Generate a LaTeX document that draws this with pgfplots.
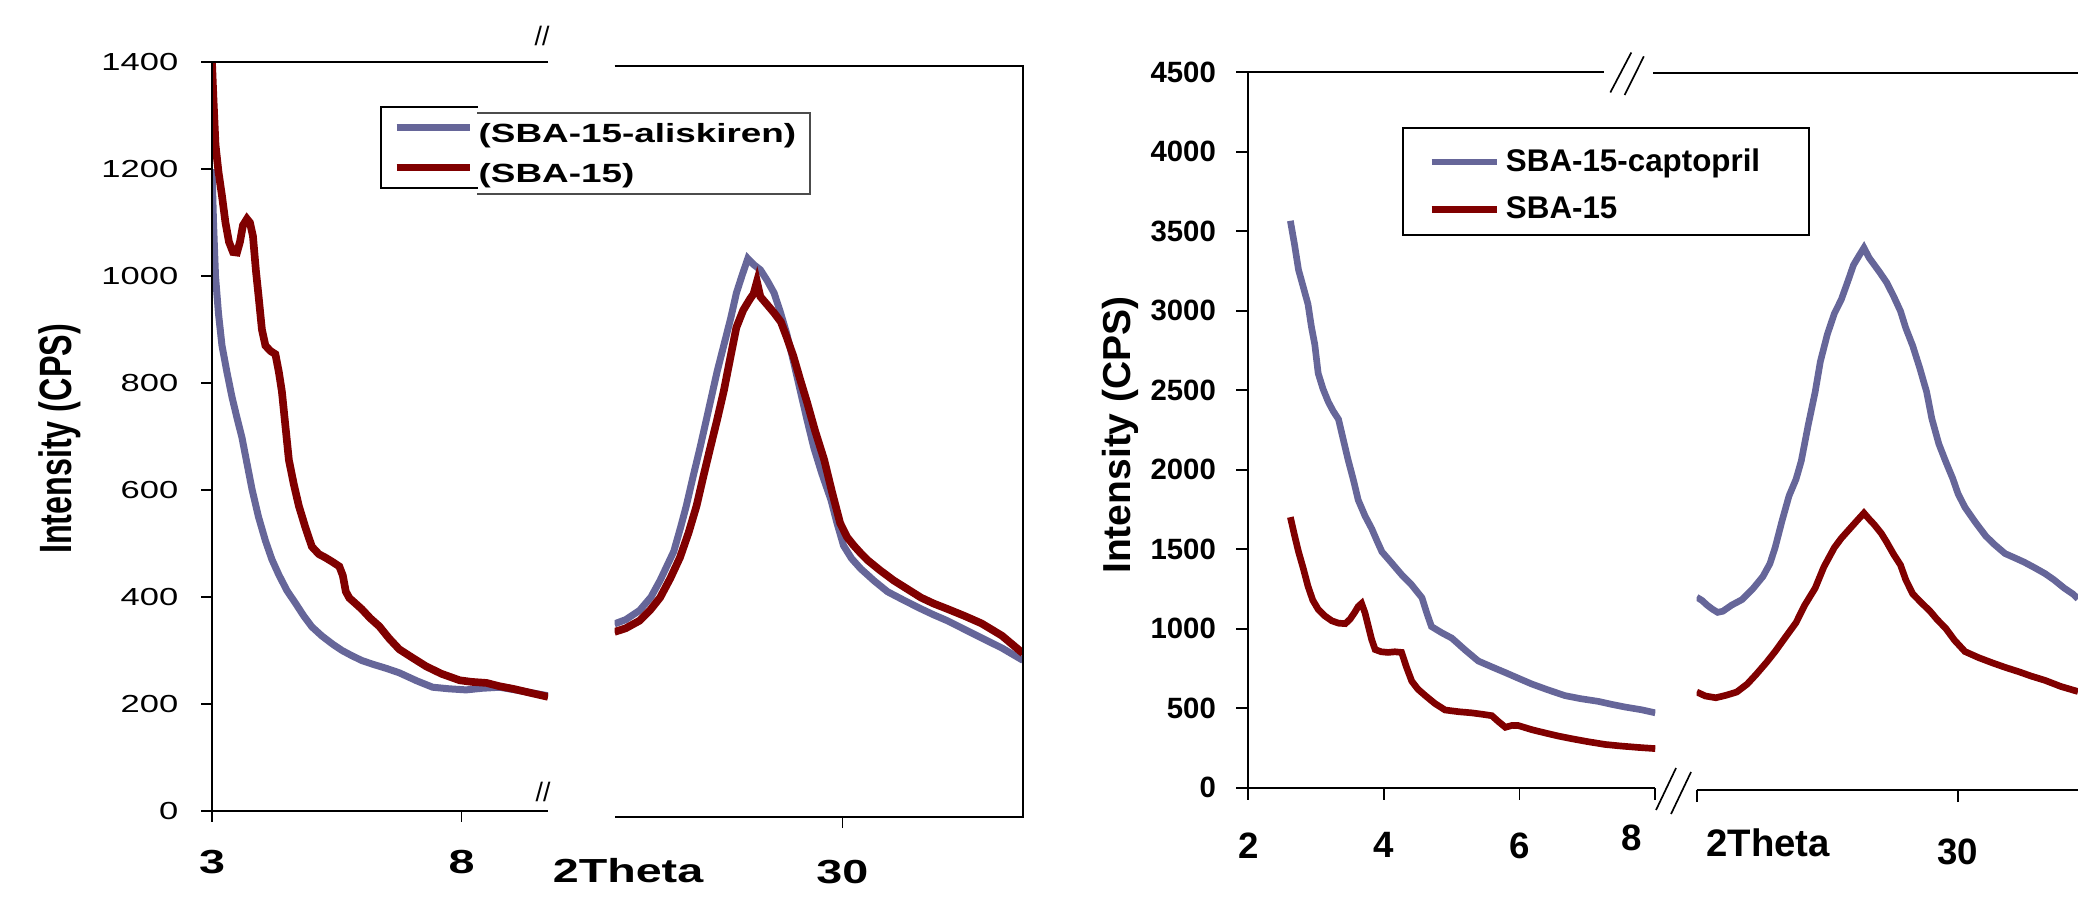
\documentclass[border=0pt]{standalone}
\usepackage{fontspec}
\setmainfont{Liberation Sans}
\newfontfamily\wide[FakeStretch=1.4]{Liberation Sans}
\usepackage{graphicx}
\usepackage{pgfplots}
\pgfplotsset{compat=1.18}

\definecolor{cblue}{RGB}{102,102,153}
\definecolor{cred}{RGB}{128,0,0}

% fonts: left panel is set wide, right panel plain bold
\newcommand\Lyt{\wide\fontsize{7.4}{8.9}\selectfont}
\newcommand\Lxb{\wide\bfseries\fontsize{10}{12}\selectfont}
\newcommand\Lleg{\wide\bfseries\fontsize{7.9}{9.5}\selectfont}
\newcommand\Ryt{\bfseries\fontsize{8.8}{10.5}\selectfont}
\newcommand\Rxb{\bfseries\fontsize{11}{13}\selectfont}
\newcommand\Rleg{\bfseries\fontsize{9.4}{11}\selectfont}

\pgfplotsset{
  brk/.style={
    anchor=south west, scale only axis, axis line style={draw=none},
    clip mode=individual, tick align=outside,
    xtick pos=left, ytick pos=left,
    tick style={black, line width=0.5pt}, ymin=0,
  },
}

\begin{document}
\begin{tikzpicture}
% page = 2078 x 901 px, 1 px = 0.3pt, y measured downwards
\path[use as bounding box] (0pt,0pt) rectangle (623.4pt,-270.2pt);

% ---------------- left figure, low angles ----------------
\begin{axis}[brk,
  at={(63.6pt,-243.21pt)}, width=100.8pt, height=224.52pt,
  xmin=3, xmax=9.73, ymax=1400,
  major tick length=3.3pt,
  xtick={3,8}, xticklabels={3,8},
  ytick={0,200,400,600,800,1000,1200,1400},
  yticklabels={0,200,400,600,800,1000,1200,1400},
  xticklabel style={font=\Lxb, yshift=-5pt},
  yticklabel style={font=\Lyt, xshift=-3.3pt},
  legend cell align=left,
  legend style={draw=none, fill=none, at={(0.5378,0.9189)}, anchor=north west,
    inner sep=0pt, outer sep=0pt, row sep=4.2pt, column sep=1.5pt, font=\Lleg,
    nodes={inner sep=0pt, text height=6pt, text depth=1.8pt}},
  legend image code/.code={\draw[#1, line width=2.3pt] (0pt,2.5pt) -- (22pt,2.5pt);},
]
\addplot[cblue, line width=2.1pt] coordinates {
  (3.0,1200) (3.03,1100) (3.07,1000) (3.13,930) (3.2,870) (3.3,820) (3.4,774)
  (3.5,735) (3.6,698) (3.7,650) (3.8,602) (3.93,550) (4.07,505) (4.2,470)
  (4.34,441) (4.5,412) (4.68,387) (4.84,364) (5.0,344) (5.2,327) (5.41,312)
  (5.6,300) (5.8,290) (6.0,281) (6.22,274) (6.5,266) (6.75,258) (7.1,243)
  (7.42,231) (7.75,228) (8.09,226) (8.4,229) (8.76,231) (9.2,224) (9.73,215)
};
\addplot[cred, line width=2.3pt] coordinates {
  (3.0,1400) (3.03,1330) (3.07,1246) (3.13,1195) (3.2,1150) (3.27,1100)
  (3.34,1064) (3.42,1045) (3.5,1044) (3.56,1064) (3.62,1095) (3.7,1107)
  (3.76,1100) (3.82,1075) (3.88,1010) (3.94,956) (4.0,900) (4.07,870)
  (4.17,860) (4.27,854) (4.34,820) (4.4,784) (4.47,720) (4.54,656) (4.64,610)
  (4.74,570) (4.87,530) (5.0,494) (5.14,480) (5.28,473) (5.42,465) (5.55,457)
  (5.62,440) (5.68,410) (5.75,398) (5.87,388) (6.0,377) (6.17,360) (6.35,345)
  (6.55,322) (6.75,302) (7.0,287) (7.29,270) (7.6,256) (7.96,244) (8.2,241)
  (8.5,239) (8.75,233) (9.03,228) (9.4,220) (9.73,213)
};
\legend{{(SBA-15-aliskiren)},{(SBA-15)}}
\draw[line width=0.7pt] (rel axis cs:1,1) -- (rel axis cs:0,1)
  -- (rel axis cs:0,0) -- (rel axis cs:1,0);
\end{axis}

% ---------------- left figure, wide angles ----------------
\begin{axis}[brk,
  at={(184.35pt,-245.1pt)}, width=122.55pt, height=225.3pt,
  xmin=10, xmax=45.85, ymax=1400,
  major tick length=3.3pt,
  xtick={30}, xticklabels={30}, ytick=\empty,
  xticklabel style={font=\Lxb, yshift=-6pt},
]
\addplot[cblue, line width=2.1pt] coordinates {
  (10,360) (11,368) (12.2,385) (13.2,410) (14,441) (14.6,468) (15.2,495)
  (15.8,540) (16.3,580) (16.9,635) (17.5,688) (18.0,735) (18.4,773) (19.0,830)
  (19.6,880) (20.2,930) (20.7,977) (21.2,1010) (21.7,1041) (22.2,1030)
  (22.8,1020) (23.4,1000) (24.0,977) (24.5,945) (25.1,902) (25.7,850)
  (26.3,795) (26.9,740) (27.5,688) (28.2,640) (29.0,591) (29.5,550) (30.1,506)
  (30.8,482) (31.6,463) (32.8,440) (33.96,420) (35.4,404) (36.9,388) (38,377)
  (39.2,366) (40.7,350) (42.2,334) (44,315) (45.85,292)
};
\addplot[cred, line width=2.3pt] coordinates {
  (10,345) (11,352) (12.2,366) (13.1,385) (14,409) (14.9,445) (15.75,484)
  (16.5,530) (17.2,580) (17.8,635) (18.4,688) (19.0,740) (19.6,795) (20.2,860)
  (20.7,913) (21.3,945) (21.9,966) (22.2,975) (22.5,998) (22.8,970) (23.4,955)
  (24.0,940) (24.6,923) (25.1,895) (25.7,859) (26.3,815) (26.9,773) (27.6,720)
  (28.4,666) (29.1,605) (29.8,548) (30.4,522) (31.0,506) (31.6,492) (32.2,479)
  (33.3,460) (34.5,441) (35.7,425) (36.9,409) (38,398) (39.2,388) (40.7,375)
  (42.2,361) (44,338) (45.85,305)
};
\draw[line width=0.7pt] (rel axis cs:0,1) -- (rel axis cs:1,1)
  -- (rel axis cs:1,0) -- (rel axis cs:0,0);
\end{axis}

% ---------------- right figure, low angles ----------------
\begin{axis}[brk,
  at={(374.49pt,-236.31pt)}, width=122.1pt, height=214.62pt,
  xmin=2, xmax=8, ymax=4500,
  major tick length=3.6pt,
  xtick={2,4,6,8}, xticklabels={2,4,6,},
  ytick={0,500,1000,1500,2000,2500,3000,3500,4000,4500},
  yticklabels={0,500,1000,1500,2000,2500,3000,3500,4000,4500},
  xticklabel style={font=\Rxb, yshift=-6.3pt},
  yticklabel style={font=\Ryt, xshift=-2.6pt},
  legend cell align=left,
  legend style={draw=none, fill=none, at={(0.4423,0.8942)}, anchor=north west,
    inner sep=0pt, outer sep=0pt, row sep=5.2pt, column sep=1.8pt, font=\Rleg,
    nodes={inner sep=0pt, text height=7pt, text depth=2pt}},
  legend image code/.code={\draw[#1, line width=2pt] (0pt,0.3pt) -- (19.5pt,0.3pt);},
]
\addplot[cblue, line width=2pt] coordinates {
  (2.62,3566) (2.68,3420) (2.74,3258) (2.81,3150) (2.88,3041) (2.93,2900)
  (2.98,2788) (3.03,2607) (3.1,2510) (3.18,2426) (3.25,2370) (3.33,2317)
  (3.4,2190) (3.47,2064) (3.55,1935) (3.62,1810) (3.72,1710) (3.82,1629)
  (3.9,1550) (3.97,1484) (4.1,1420) (4.26,1340) (4.4,1280) (4.56,1195)
  (4.63,1100) (4.70,1014) (4.85,975) (5.0,941) (5.2,865) (5.39,797) (5.59,760)
  (5.79,724) (6.0,685) (6.18,652) (6.42,615) (6.67,579) (6.9,560) (7.16,543)
  (7.35,525) (7.56,507) (7.8,490) (8.0,471)
};
\addplot[cred, line width=2pt] coordinates {
  (2.62,1702) (2.68,1590) (2.74,1484) (2.81,1380) (2.88,1267) (2.95,1180)
  (3.03,1122) (3.13,1080) (3.23,1050) (3.33,1035) (3.43,1032) (3.5,1060)
  (3.57,1104) (3.62,1140) (3.67,1159) (3.72,1100) (3.77,1014) (3.82,930)
  (3.87,869) (3.96,855) (4.06,851) (4.16,855) (4.26,851) (4.33,760) (4.41,670)
  (4.5,620) (4.61,579) (4.75,530) (4.9,489) (5.1,478) (5.29,471) (5.45,462)
  (5.59,453) (5.69,415) (5.79,380) (5.89,392) (5.98,391) (6.18,365) (6.38,344)
  (6.57,325) (6.77,308) (7.0,290) (7.26,272) (7.5,262) (7.76,253) (8.0,246)
};
\legend{SBA-15-captopril,SBA-15}
\draw[line width=0.6pt] (rel axis cs:0.873,1) -- (rel axis cs:0,1)
  -- (rel axis cs:0,0) -- (rel axis cs:1,0);
\end{axis}

% ---------------- right figure, wide angles (cut at the edge) ----------------
\begin{axis}[brk,
  at={(509.01pt,-237pt)}, width=114.39pt, height=215.1pt,
  xmin=15, xmax=36.89, ymax=4500,
  major tick length=3.6pt,
  xtick={15,30}, xticklabels={,30}, ytick=\empty,
  xticklabel style={font=\Rxb, yshift=-7.4pt},
]
\addplot[cblue, line width=2pt] coordinates {
  (15.0,1210) (15.3,1190) (15.6,1160) (15.9,1135) (16.2,1115) (16.5,1122)
  (17.0,1160) (17.6,1195) (18.2,1260) (18.8,1340) (19.2,1420)
  (19.5,1521) (19.9,1690) (20.3,1846) (20.7,1950) (21.0,2064) (21.4,2290)
  (21.8,2498) (22.1,2690) (22.5,2860) (22.9,2990) (23.3,3078) (23.7,3200)
  (24.0,3295) (24.3,3350) (24.6,3403) (24.9,3340) (25.2,3295) (25.5,3250)
  (25.9,3186) (26.3,3100) (26.7,3005) (27.0,2900) (27.4,2788) (27.8,2650)
  (28.2,2498) (28.5,2330) (28.9,2172) (29.3,2060) (29.7,1955) (30.0,1860)
  (30.4,1774) (31.0,1680) (31.6,1593) (32.1,1540) (32.7,1484) (33.3,1455)
  (33.8,1430) (34.4,1395) (35.0,1358) (35.5,1320) (36.1,1267) (36.6,1230)
  (36.89,1200)
};
\addplot[cred, line width=2pt] coordinates {
  (15.0,615) (15.5,590) (16.1,579) (16.7,595) (17.3,615) (17.9,665) (18.4,724)
  (19.0,800) (19.5,869) (20.1,960) (20.7,1050) (21.2,1160) (21.8,1267)
  (22.3,1400) (22.9,1521) (23.3,1580) (23.7,1629) (24.2,1690) (24.6,1738)
  (24.9,1700) (25.2,1665) (25.6,1610) (25.9,1557) (26.3,1480) (26.7,1412)
  (27.0,1320) (27.4,1231) (27.9,1175) (28.4,1122) (28.8,1070) (29.3,1014)
  (29.8,940) (30.4,869) (31.2,830) (32.0,797) (32.7,770) (33.5,742) (34.2,715)
  (35.0,688) (35.9,650) (36.89,618)
};
\draw[line width=0.6pt] (rel axis cs:-0.114,1) -- (rel axis cs:1,1);
\draw[line width=0.6pt] (rel axis cs:0,0) -- (rel axis cs:1,0);
\end{axis}

% ---------------- labels, legend frames, axis breaks (pixel units) ----------------
\begin{scope}[x=0.3pt, y=-0.3pt]
\node[rotate=90] at (60,439)
  {\scalebox{1}[1.4]{\bfseries\fontsize{9.7}{11}\selectfont Intensity (CPS)}};
\node[font=\Lxb] at (628,871) {2Theta};
\node[font=\fontsize{8}{9}\selectfont] at (542,36) {//};
\node[font=\fontsize{8}{9}\selectfont] at (543,792) {//};
\draw[line width=0.5pt] (477.7,106.7) -- (380.7,106.7) -- (380.7,188.3) -- (477.7,188.3);
\draw[black!70, line width=0.5pt] (477,113.3) -- (810,113.3) -- (810,194.3) -- (477,194.3);

\node[rotate=90, font=\bfseries\fontsize{11.7}{13}\selectfont] at (1120,435) {Intensity (CPS)};
\node[font=\bfseries\fontsize{11.5}{13}\selectfont] at (1768,843) {2Theta};
\node[font=\Rxb] at (1632,838) {8};
\draw[line width=0.6pt] (1403.3,127.7) rectangle (1808.7,235);
\draw[line width=0.5pt] (1610.3,92.5) -- (1631.3,52.5) (1624.6,95) -- (1643.8,56.4);
\draw[line width=0.5pt] (1656,810) -- (1676,768) (1671,814) -- (1691,772);
\end{scope}
\end{tikzpicture}
\end{document}
